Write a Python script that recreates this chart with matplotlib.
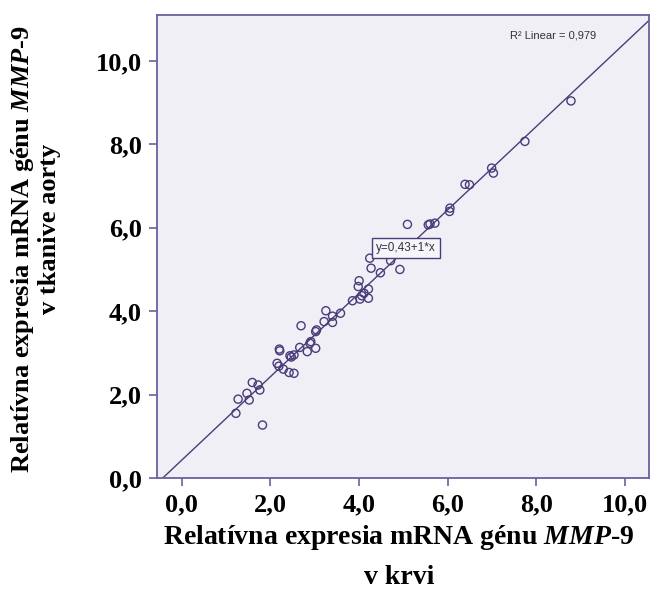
import matplotlib
matplotlib.use("Agg")
import matplotlib.pyplot as plt
import numpy as np

# ---- data ----
blood_x = [1.22, 1.27, 1.82, 1.47, 1.52, 1.59, 1.72, 1.76, 2.15, 2.19,
           2.21, 2.20, 2.29, 2.42, 2.53, 2.44, 2.53, 2.47, 2.66, 2.69,
           2.83, 2.89, 2.91, 3.02, 3.02, 3.04, 3.21, 3.25, 3.40, 3.40,
           3.58, 3.85, 4.00, 3.98, 4.02, 4.11, 4.21, 4.21, 4.06, 4.24,
           4.27, 4.48, 4.71, 4.92, 5.09, 5.56, 5.60, 5.71, 6.05, 6.04,
           6.39, 6.49, 6.99, 7.03, 7.74, 8.78]
aorta_y = [1.55, 1.89, 1.27, 2.03, 1.87, 2.29, 2.23, 2.11, 2.75, 2.68,
           3.05, 3.09, 2.61, 2.53, 2.51, 2.93, 2.95, 2.90, 3.13, 3.65,
           3.03, 3.23, 3.27, 3.11, 3.51, 3.55, 3.75, 4.01, 3.88, 3.73,
           3.95, 4.25, 4.73, 4.59, 4.29, 4.43, 4.53, 4.31, 4.37, 5.27,
           5.03, 4.92, 5.21, 5.00, 6.08, 6.07, 6.09, 6.11, 6.47, 6.39,
           7.04, 7.03, 7.43, 7.31, 8.07, 9.04]
fit_intercept = 0.43
fit_slope = 1.0
r2_text = "R² Linear = 0,979"
eq_text = "y=0,43+1*x"
tick_values = [0, 2, 4, 6, 8, 10]
tick_labels = ["0,0", "2,0", "4,0", "6,0", "8,0", "10,0"]

# ---- style ----
frame_col = "#6E5E9C"
mark_col = "#4A3C7A"
bg_col = "#F1EFF6"

plt.rcParams["mathtext.fontset"] = "custom"
plt.rcParams["mathtext.rm"] = "Liberation Serif:bold"
plt.rcParams["mathtext.it"] = "Liberation Serif:italic:bold"
plt.rcParams["mathtext.bf"] = "Liberation Serif:bold"

fig = plt.figure(figsize=(6.52, 5.93), dpi=100)
fig.patch.set_facecolor("white")
ax = fig.add_axes([157/652, 1-478/593, (649-157)/652, (478-15)/593])
ax.set_facecolor(bg_col)

xlim = (-0.56, 10.54)
ylim = (0.0, 11.1)
ax.set_xlim(*xlim)
ax.set_ylim(*ylim)

# fit line
lx = np.array(xlim)
ax.plot(lx, fit_intercept + fit_slope * lx, color=mark_col, lw=1.0, zorder=2)

# points
ax.scatter(blood_x, aorta_y, s=34, facecolors="none", edgecolors=mark_col,
           linewidths=1.0, zorder=3)

# annotations
ax.text(8.37, 10.60, r2_text, fontsize=8, family="Liberation Sans",
        color="#333333", ha="center", va="center")
ax.text(5.06, 5.52, eq_text, fontsize=8.5, family="Liberation Sans",
        color="#333344", ha="center", va="center", zorder=4,
        bbox=dict(boxstyle="square,pad=0.35", fc="#F6F5FA", ec=mark_col, lw=1.0))

for s in ax.spines.values():
    s.set_color(frame_col)
    s.set_linewidth(1.3)

ax.set_xticks(tick_values)
ax.set_xticklabels(tick_labels)
ax.set_yticks(tick_values)
ax.set_yticklabels(tick_labels)
ax.tick_params(axis="both", direction="out", length=6, width=1.2,
               color=frame_col, labelcolor="black", labelsize=19, pad=5)
for lab in ax.get_xticklabels() + ax.get_yticklabels():
    lab.set_family("Liberation Serif")
    lab.set_fontweight("bold")

# axis labels
lab_kw = dict(family="Liberation Serif", fontweight="bold",
              color="black", ha="center", va="center")
fig.text(399/652, 1-537/593, "Relatívna expresia mRNA génu $\\mathit{MMP}$-$\\mathit{9}$",
         fontsize=20, **lab_kw)
fig.text(399/652, 1-577/593, "v krvi", fontsize=20, **lab_kw)
fig.text(23/652, 1-249/593, "Relatívna expresia mRNA génu $\\mathit{MMP}$-$\\mathit{9}$",
         rotation=90, fontsize=19, **lab_kw)
fig.text(50/652, 1-229/593, "v tkanive aorty", rotation=90, fontsize=19, **lab_kw)

fig.savefig("out.png", dpi=100)
